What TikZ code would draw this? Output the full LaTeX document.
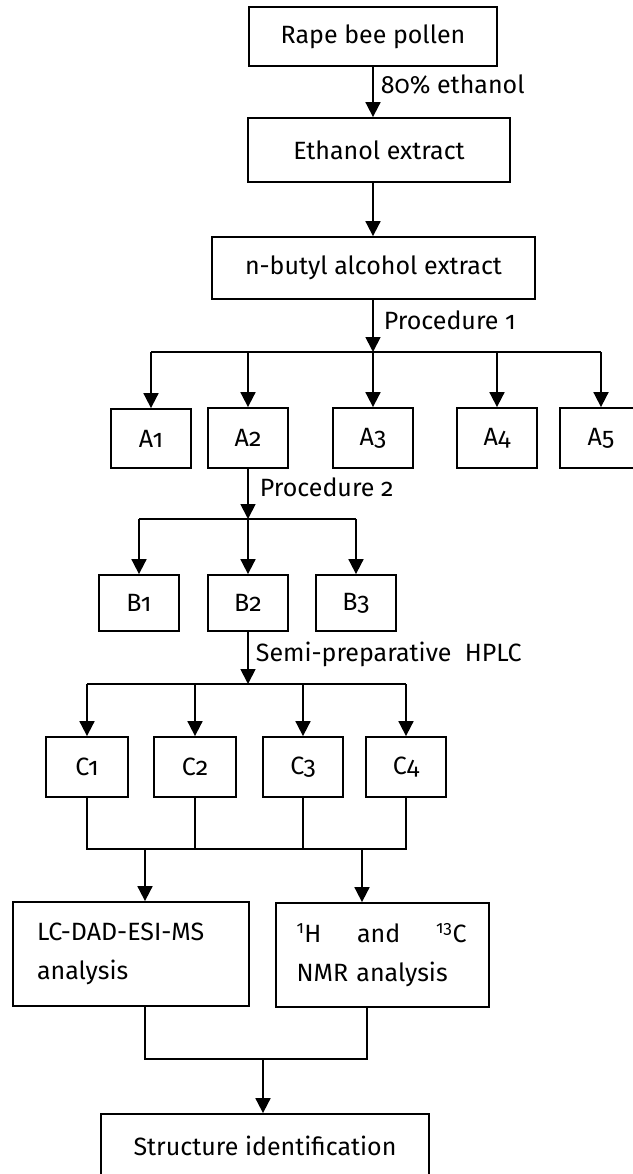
\documentclass[tikz,border=0pt]{standalone}
\usepackage{fontspec}
\setmainfont{Fira Sans}[Numbers=OldStyle]
\usetikzlibrary{arrows.meta}
\begin{document}
\begin{tikzpicture}[x=1pt,y=-1pt,line width=1.8pt,
  txt/.style={font=\fontsize{25}{39}\selectfont},
  box/.style={draw,rectangle,inner sep=0pt,txt},
  arr/.style={-{Triangle[width=15pt,length=15pt]}},
  lab/.style={txt,anchor=west,inner sep=0pt}]
\useasboundingbox (0,0) rectangle (632,1174);
% boxes
\node[box,minimum width=248pt,minimum height=59pt] (rape) at (373,36.5) {Rape bee pollen};
\node[box,minimum width=262pt,minimum height=64pt] (eth) at (379,150) {Ethanol extract};
\node[box,minimum width=323pt,minimum height=62pt] (but) at (373.5,268) {n-butyl alcohol extract};
\node[box,minimum width=80pt,minimum height=59pt] (A1) at (151,438.5) {A1};
\node[box,minimum width=80pt,minimum height=60pt] (A2) at (248,438) {A2};
\node[box,minimum width=80pt,minimum height=60pt] (A3) at (373,438) {A3};
\node[box,minimum width=80pt,minimum height=60pt] (A4) at (497,438) {A4};
\node[box,minimum width=82pt,minimum height=60pt] (A5) at (601,438) {A5};
\node[box,minimum width=80pt,minimum height=56pt] (B1) at (139,603) {B1};
\node[box,minimum width=80pt,minimum height=56pt] (B2) at (248,603) {B2};
\node[box,minimum width=80pt,minimum height=56pt] (B3) at (356,603) {B3};
\node[box,minimum width=82pt,minimum height=60pt] (C1) at (87,767) {C1};
\node[box,minimum width=82pt,minimum height=60pt] (C2) at (195,767) {C2};
\node[box,minimum width=80pt,minimum height=60pt] (C3) at (303,767) {C3};
\node[box,minimum width=80pt,minimum height=60pt] (C4) at (406,767) {C4};
\node[box,minimum width=236pt,minimum height=104pt,text width=188pt,align=left] (LC) at (131,954) {LC-DAD-ESI-MS\\analysis};
\node[box,minimum width=213pt,minimum height=104pt,text width=172pt,align=left] (NMR) at (382.5,955)
  {\makebox[170pt][s]{\textsuperscript{1}H\hfill and\hfill \textsuperscript{13}C}\\NMR analysis};
\node[box,minimum width=328pt,minimum height=76pt,text height=19pt,text depth=13pt] (st) at (265,1152) {Structure identification};
% junctions
\coordinate (j1) at (373,352);
\coordinate (j2) at (248,519);
\coordinate (j3) at (248,684);
\coordinate (j4) at (145,849);
\coordinate (j5) at (362,849);
\coordinate (j6) at (263,1059);
% connectors
\draw[arr] (rape.south) -- (rape.south |- eth.north);
\draw[arr] (eth.south -| rape.south) -- (rape.south |- but.north);
\draw[arr] (but.south -| j1) -- (j1);
\draw (A1.north |- j1) -- (A5.north |- j1);
\foreach \n in {A1,A2,A3,A4,A5} \draw[arr] (\n.north |- j1) -- (\n.north);
\draw[arr] (A2.south) -- (j2);
\draw (B1.north |- j2) -- (B3.north |- j2);
\foreach \n in {B1,B2,B3} \draw[arr] (\n.north |- j2) -- (\n.north);
\draw[arr] (B2.south) -- (j3);
\draw (C1.north |- j3) -- (C4.north |- j3);
\foreach \n in {C1,C2,C3,C4} \draw[arr] (\n.north |- j3) -- (\n.north);
\draw (C1.south) -- (C1.south |- j4) -- (C4.south |- j4) -- (C4.south);
\draw (C2.south) -- (C2.south |- j4);
\draw (C3.south) -- (C3.south |- j4);
\draw[arr] (j4) -- (j4 |- LC.north);
\draw[arr] (j5) -- (j5 |- NMR.north);
\draw (j4 |- LC.south) -- (j4 |- j6) -- (367,1059) coordinate (j7) -- (j7 |- NMR.south);
\draw[arr] (j6) -- (j6 |- st.north);
% labels
\node[lab] (l1) at (380,85) {80\% ethanol};
\node[lab] (l2) at (383,320) {Procedure 1};
\node[lab] (l3) at (259,487) {Procedure 2};
\node[lab] (l4) at (255,654) {Semi-preparative\ \ HPLC};
\end{tikzpicture}
\end{document}
